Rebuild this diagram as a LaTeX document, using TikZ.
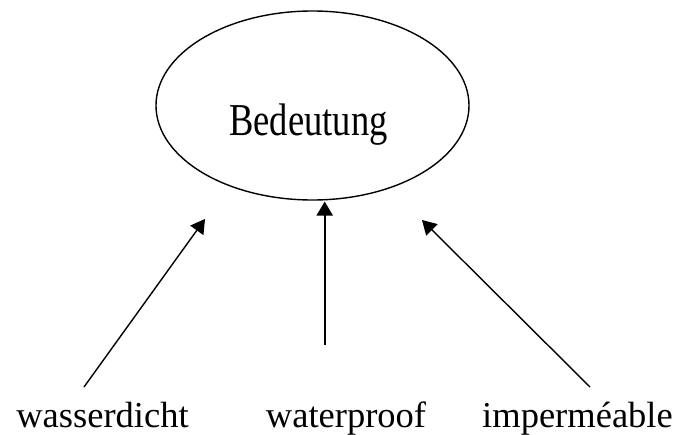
\documentclass[tikz,border=0pt]{standalone}
\usepackage{fontspec}
\setmainfont{Liberation Serif}
\usetikzlibrary{shapes.geometric,arrows.meta}
\tikzset{
  lbl/.style={anchor=base, inner sep=0pt, font=\fontsize{36.5}{40}\selectfont},
  oval/.style={draw, line width=1.4pt, ellipse, inner sep=0pt},
  arr/.style={-{Triangle[length=14pt,width=16pt]}, line width=1.4pt},
}
\begin{document}
\begin{tikzpicture}[x=1pt,y=-1pt]
\useasboundingbox (0,0) rectangle (677,434);
\node[oval, minimum width=313pt, minimum height=189pt] (bed) at (312.5,105.5) {};
\node[lbl] (bedtext) at (308.5,135) {\scalebox{1}[1.25]{Bedeutung}};
\node[lbl] (wd) at (102.5,427) {wasserdicht};
\node[lbl] (wp) at (346,427) {waterproof};
\node[lbl] (im) at (577.5,427) {imperméable};
\coordinate (s1) at (84,387);
\coordinate (e1) at (205,219);
\coordinate (s2) at (324.7,345);
\coordinate (e2) at (324.7,201.5);
\coordinate (s3) at (590,387);
\coordinate (e3) at (422,220);
\draw[arr] (s1) -- (e1);
\draw[arr, line width=2pt] (s2) -- (e2);
\draw[arr] (s3) -- (e3);
\end{tikzpicture}
\end{document}
